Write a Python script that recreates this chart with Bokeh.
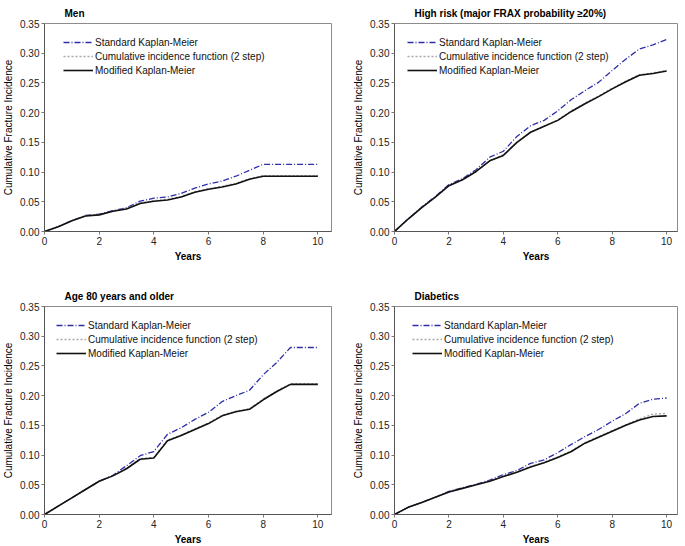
from bokeh.plotting import figure
from bokeh.layouts import column, row
from bokeh.models import FixedTicker, NumeralTickFormatter, Range1d, Legend, LegendItem
from bokeh.embed import file_html
from bokeh.resources import INLINE

# ---------------- data ----------------
years = [0, 0.5, 1, 1.5, 2, 2.5, 3, 3.5, 4, 4.5, 5, 5.5, 6, 6.5, 7, 7.5, 8, 8.5, 9, 9.5, 10]
x_ticks = [0, 2, 4, 6, 8, 10]
y_ticks = [0.0, 0.05, 0.10, 0.15, 0.20, 0.25, 0.30, 0.35]

series_names = ["Standard Kaplan-Meier", "Cumulative incidence function (2 step)", "Modified Kaplan-Meier"]
panel_titles = ["Men", "High risk (major FRAX probability \u226520%)", "Age 80 years and older", "Diabetics"]

men_std = [0, 0.008, 0.018, 0.027, 0.029, 0.035, 0.040, 0.051, 0.056, 0.058, 0.064, 0.073, 0.080, 0.085, 0.093, 0.103, 0.113, 0.113, 0.113, 0.113, 0.113]
men_cif = [0, 0.008, 0.018, 0.026, 0.029, 0.034, 0.039, 0.048, 0.052, 0.054, 0.059, 0.067, 0.072, 0.076, 0.081, 0.089, 0.094, 0.094, 0.094, 0.094, 0.094]
men_mod = [0, 0.008, 0.018, 0.026, 0.028, 0.034, 0.038, 0.047, 0.051, 0.053, 0.058, 0.066, 0.071, 0.075, 0.080, 0.088, 0.093, 0.093, 0.093, 0.093, 0.093]

hr_std = [0, 0.021, 0.041, 0.059, 0.079, 0.089, 0.104, 0.125, 0.135, 0.160, 0.178, 0.187, 0.203, 0.222, 0.237, 0.251, 0.271, 0.290, 0.307, 0.314, 0.323]
hr_cif = [0, 0.021, 0.040, 0.058, 0.077, 0.087, 0.101, 0.119, 0.129, 0.150, 0.167, 0.177, 0.188, 0.203, 0.216, 0.228, 0.241, 0.253, 0.264, 0.267, 0.271]
hr_mod = [0, 0.021, 0.040, 0.058, 0.077, 0.087, 0.101, 0.119, 0.128, 0.150, 0.167, 0.177, 0.187, 0.202, 0.215, 0.227, 0.240, 0.252, 0.263, 0.266, 0.270]

age_std = [0, 0.014, 0.028, 0.042, 0.056, 0.066, 0.082, 0.099, 0.106, 0.135, 0.146, 0.160, 0.172, 0.190, 0.200, 0.209, 0.235, 0.256, 0.281, 0.281, 0.281]
age_cif = [0, 0.014, 0.028, 0.042, 0.056, 0.065, 0.078, 0.094, 0.096, 0.125, 0.134, 0.144, 0.154, 0.167, 0.174, 0.178, 0.194, 0.208, 0.220, 0.220, 0.220]
age_mod = [0, 0.014, 0.028, 0.042, 0.056, 0.065, 0.077, 0.093, 0.095, 0.124, 0.133, 0.143, 0.153, 0.166, 0.173, 0.177, 0.193, 0.207, 0.219, 0.219, 0.219]

dia_std = [0, 0.012, 0.020, 0.029, 0.039, 0.045, 0.051, 0.058, 0.067, 0.074, 0.086, 0.092, 0.104, 0.118, 0.131, 0.143, 0.157, 0.170, 0.187, 0.194, 0.196]
dia_cif = [0, 0.012, 0.020, 0.029, 0.038, 0.044, 0.050, 0.056, 0.064, 0.072, 0.081, 0.088, 0.097, 0.107, 0.121, 0.131, 0.141, 0.151, 0.161, 0.169, 0.170]
dia_mod = [0, 0.012, 0.020, 0.029, 0.038, 0.044, 0.050, 0.056, 0.064, 0.071, 0.080, 0.087, 0.096, 0.106, 0.120, 0.130, 0.140, 0.150, 0.159, 0.165, 0.166]

FONT = "Liberation Sans"
FH = 208


def make_panel(title, std, cif, mod, fw, x_max, b_left, b_right, b_top, b_bottom, leg_x):
    p = figure(frame_width=fw, frame_height=FH, output_backend="svg", toolbar_location=None,
               x_range=Range1d(0, x_max), y_range=Range1d(0, 0.35),
               min_border_left=b_left, min_border_right=b_right,
               min_border_top=b_top, min_border_bottom=b_bottom)
    p.title.text = title
    p.title.text_font = FONT
    p.title.text_font_size = "10px"
    p.title.text_font_style = "bold"
    p.title.align = "left"
    p.title.offset = 20
    p.title.standoff = 10
    p.title.text_color = "#000000"

    p.xgrid.visible = False
    p.ygrid.visible = False
    p.outline_line_color = "#8c8c8c"
    p.outline_line_width = 1
    p.background_fill_color = "white"
    p.border_fill_color = "white"

    for ax in (p.xaxis[0], p.yaxis[0]):
        ax.axis_line_color = "#555555"
        ax.major_tick_line_color = "#777777"
        ax.minor_tick_line_color = None
        ax.major_tick_in = 0
        ax.major_tick_out = 3
        ax.major_label_standoff = 2
        ax.axis_label_standoff = 3
        ax.major_label_text_font = FONT
        ax.major_label_text_font_size = "10px"
        ax.major_label_text_color = "#222222"
        ax.axis_label_text_font = FONT
        ax.axis_label_text_font_size = "10px"
        ax.axis_label_text_color = "#000000"

    p.xaxis.ticker = FixedTicker(ticks=x_ticks)
    p.yaxis.ticker = FixedTicker(ticks=y_ticks)
    p.yaxis.formatter = NumeralTickFormatter(format="0.00")
    p.xaxis.axis_label = "Years"
    p.xaxis.axis_label_text_font_style = "bold"
    p.yaxis.axis_label = "Cumulative Fracture Incidence"
    p.yaxis.axis_label_text_font_style = "normal"

    r_std = p.line(years, std, line_color="#2e2ea8", line_width=1.3, line_dash="6 2 1 2")
    r_cif = p.line(years, cif, line_color="#a8a8a8", line_width=1.4, line_dash="2 2")
    r_mod = p.line(years, mod, line_color="#111111", line_width=1.6)

    legend = Legend(items=[LegendItem(label=series_names[0], renderers=[r_std]),
                           LegendItem(label=series_names[1], renderers=[r_cif]),
                           LegendItem(label=series_names[2], renderers=[r_mod])],
                    location=(leg_x, FH - 12 - 42))
    legend.border_line_color = None
    legend.background_fill_alpha = 0
    legend.padding = 0
    legend.margin = 0
    legend.spacing = 0
    legend.glyph_width = 30
    legend.glyph_height = 14
    legend.label_height = 14
    legend.label_standoff = 2
    legend.label_text_font = FONT
    legend.label_text_font_size = "10px"
    legend.label_text_color = "#111111"
    p.add_layout(legend)
    return p


p1 = make_panel(panel_titles[0], men_std, men_cif, men_mod, 287, 10.5, 40, 13, 16, 31, 19)
p2 = make_panel(panel_titles[1], hr_std, hr_cif, hr_mod, 283, 10.4, 50, 3, 16, 31, 13)
p3 = make_panel(panel_titles[2], age_std, age_cif, age_mod, 287, 10.5, 40, 13, 42, 31, 12)
p4 = make_panel(panel_titles[3], dia_std, dia_cif, dia_mod, 283, 10.4, 50, 3, 42, 31, 18)

layout = column(row(p1, p2), row(p3, p4))

open("out.html", "w").write(file_html(layout, INLINE))
